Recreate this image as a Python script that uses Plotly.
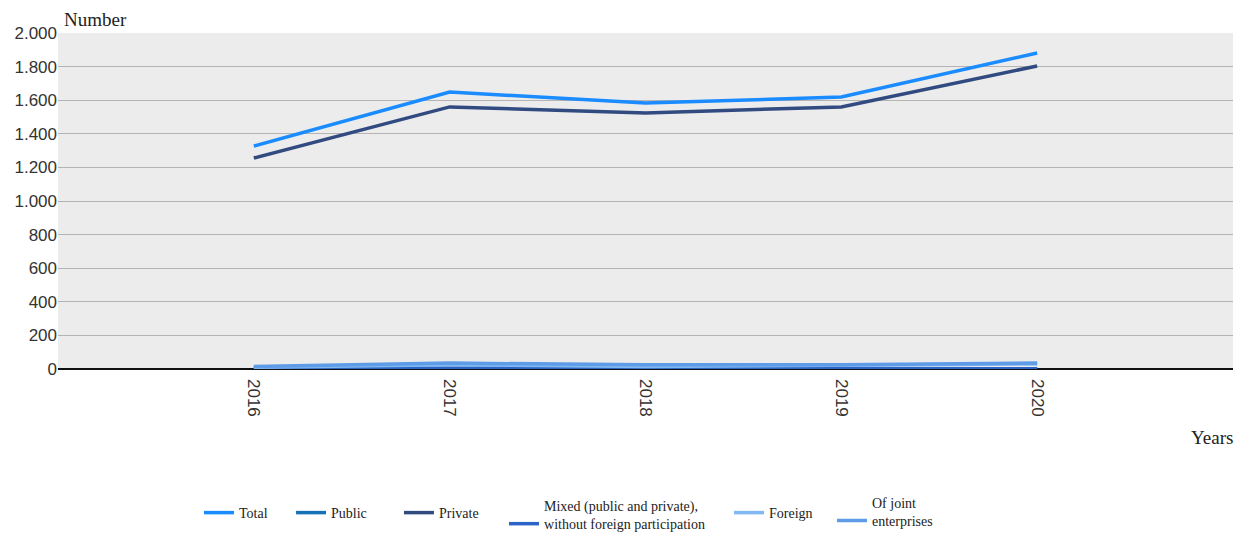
import plotly.graph_objects as go

years = ["2016", "2017", "2018", "2019", "2020"]
total = [1327, 1649, 1583, 1619, 1881]
public = [3, 3, 2, 2, 2]
private = [1256, 1560, 1524, 1560, 1804]
mixed = [5, 5, 3, 3, 3]
foreign = [10, 25, 15, 20, 30]
joint = [15, 35, 25, 25, 35]

series = [
    ("Total", total, "#1a8cff"),
    ("Public", public, "#1672b6"),
    ("Private", private, "#314a80"),
    ("Mixed (public and private),<br>without foreign participation", mixed, "#2b63c6"),
    ("Foreign", foreign, "#80b8f2"),
    ("Of joint<br>enterprises", joint, "#5e9ce8"),
]
# legend placement (container fraction) per entry
leg_x = [0.1606, 0.2349, 0.3220, 0.4068, 0.5884, 0.6715]
leg_y = [0.0375, 0.0375, 0.0375, 0.034, 0.0375, 0.040]
leg_valign = ["middle", "middle", "middle", "bottom", "middle", "bottom"]

fig = go.Figure()
layout_legends = {}
for i, (name, vals, col) in enumerate(series):
    lname = "legend" if i == 0 else f"legend{i+1}"
    fig.add_trace(go.Scatter(x=list(range(len(years))), y=vals, name=name, mode="lines",
                             line=dict(color=col, width=3.5), legend=lname))
    layout_legends[lname] = dict(
        xref="container", yref="container", x=leg_x[i], y=leg_y[i],
        xanchor="left", yanchor="middle", valign=leg_valign[i],
        itemwidth=30, bgcolor="rgba(0,0,0,0)",
        font=dict(family="Liberation Serif", size=14, color="#222"))

fig.update_layout(
    width=1239, height=533,
    margin=dict(l=58, r=6, t=33, b=164, autoexpand=False),
    paper_bgcolor="white", plot_bgcolor="#ececec",
    separators=",.",
    showlegend=True,
    xaxis=dict(range=[-1, 5], tickmode="array", tickvals=list(range(len(years))),
               ticktext=years, tickangle=90, showgrid=False, zeroline=False,
               showline=False, ticks="", automargin=False, ticklabelstandoff=9,
               tickfont=dict(family="Liberation Sans", size=17, color="#333")),
    yaxis=dict(range=[0, 2000], dtick=200, tickformat=",d", showgrid=True,
               gridcolor="#b4b4b4", gridwidth=1, zeroline=True, zerolinecolor="#111",
               zerolinewidth=1.5, ticks="", showline=False, automargin=False,
               tickfont=dict(family="Liberation Sans", size=17, color="#333")),
    annotations=[
        dict(text="Number", xref="paper", yref="paper", x=0.003, y=1.0, xanchor="left",
             yanchor="bottom", yshift=1, showarrow=False,
             font=dict(family="Liberation Serif", size=19, color="#222")),
        dict(text="Years", xref="paper", yref="paper", x=1.0, y=-0.2024, xshift=2,
             xanchor="right", yanchor="middle", showarrow=False,
             font=dict(family="Liberation Serif", size=19, color="#222")),
    ],
    **layout_legends,
)
fig.write_html("out.html")
